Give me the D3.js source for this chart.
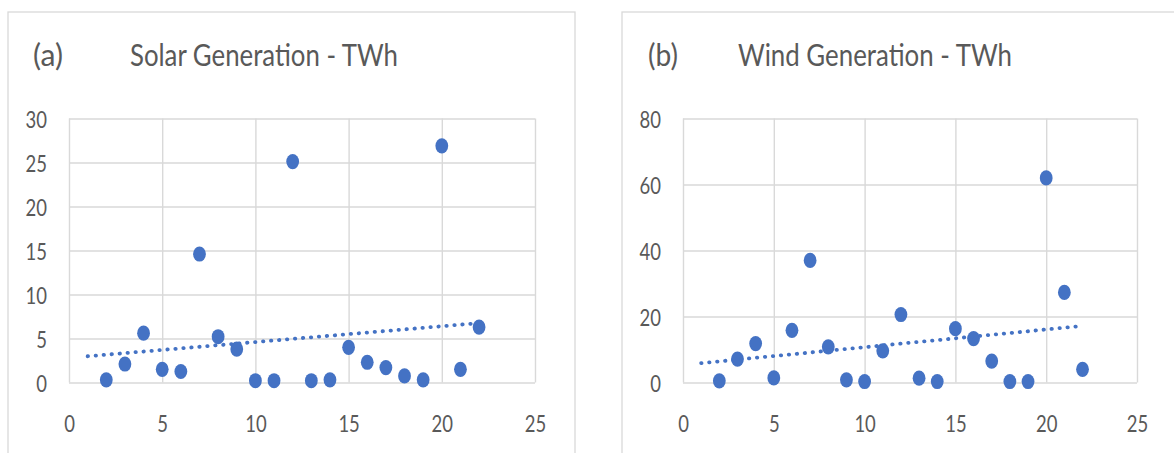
<!DOCTYPE html>
<html>
<head>
<meta charset="utf-8">
<script src="https://cdn.jsdelivr.net/npm/d3@7"></script>
<style>
  html, body { margin: 0; padding: 0; background: #fff; }
  svg { display: block; }
</style>
</head>
<body>
<svg id="chart" width="1174" height="453"></svg>
<script>
// Observation index (x) shared by both panels
const xValues = [2, 3, 4, 5, 6, 7, 8, 9, 10, 11, 12, 13, 14, 15, 16, 17, 18, 19, 20, 21, 22];

// Solar generation, TWh
const solarTWh = [0.3, 2.1, 5.6, 1.5, 1.25, 14.6, 5.2, 3.8, 0.2, 0.2, 25.1, 0.2, 0.3, 4.0, 2.3, 1.7, 0.75, 0.3, 26.9, 1.5, 6.3];

// Wind generation, TWh
const windTWh = [0.5, 7.1, 11.8, 1.4, 15.8, 37, 10.8, 0.8, 0.3, 9.6, 20.6, 1.3, 0.3, 16.3, 13.3, 6.5, 0.3, 0.3, 62, 27.3, 4.0];

// Axis ticks
const xTicks = [0, 5, 10, 15, 20, 25];
const solarYTicks = [0, 5, 10, 15, 20, 25, 30];
const windYTicks = [0, 20, 40, 60, 80];

// Linear trendline span (backward forecast of one unit)
const trendSpan = [1, 22];

const panels = [
  { tag: "(a)", title: "Solar Generation - TWh", values: solarTWh, yTicks: solarYTicks,
    frame: [8, 12, 567, 460], plot: [69, 535], tagX: 33, tagW: 30, titleX: 130, titleW: 268 },
  { tag: "(b)", title: "Wind Generation - TWh", values: windTWh, yTicks: windYTicks,
    frame: [622, 12, 600, 460], plot: [683, 1137], tagX: 648, tagW: 30, titleX: 738, titleW: 274 }
];

const TEXT = "#595959";
const GRID = "#d9d9d9";
const BLUE = "#4472C4";
const FONT = "Lato, 'Open Sans', sans-serif";
const squeeze = 0.77;
const plotTop = 118.5, plotBottom = 382.5;

const svg = d3.select("#chart");

function linearFit(xs, ys) {
  const mx = d3.mean(xs), my = d3.mean(ys);
  let sxy = 0, sxx = 0;
  xs.forEach((x, i) => { sxy += (x - mx) * (ys[i] - my); sxx += (x - mx) * (x - mx); });
  const slope = sxy / sxx;
  return x => my + slope * (x - mx);
}

panels.forEach(p => {
  const g = svg.append("g");

  // chart area frame
  g.append("rect")
    .attr("x", p.frame[0]).attr("y", p.frame[1])
    .attr("width", p.frame[2]).attr("height", p.frame[3])
    .attr("fill", "#fff").attr("stroke", GRID).attr("stroke-width", 1.3);

  // titles
  g.append("text")
    .attr("x", p.tagX).attr("y", 66)
    .attr("textLength", p.tagW).attr("lengthAdjust", "spacingAndGlyphs")
    .attr("font-family", FONT).attr("font-size", 30).attr("fill", TEXT)
    .text(p.tag);
  g.append("text")
    .attr("x", p.titleX).attr("y", 66)
    .attr("textLength", p.titleW).attr("lengthAdjust", "spacingAndGlyphs")
    .attr("font-family", FONT).attr("font-size", 30).attr("fill", TEXT)
    .text(p.title);

  const x = d3.scaleLinear().domain([0, 25]).range(p.plot);
  const yMax = p.yTicks[p.yTicks.length - 1];
  const y = d3.scaleLinear().domain([0, yMax]).range([plotBottom, plotTop]);

  // horizontal gridlines
  g.append("g")
    .attr("transform", `translate(${p.plot[0]},0)`)
    .call(d3.axisLeft(y).tickValues(p.yTicks).tickSize(-(p.plot[1] - p.plot[0])).tickFormat(""))
    .call(a => a.select(".domain").remove())
    .call(a => a.selectAll("line").attr("stroke", GRID).attr("stroke-width", 1.4));

  // vertical gridlines
  g.append("g")
    .attr("transform", `translate(0,${plotBottom})`)
    .call(d3.axisBottom(x).tickValues(xTicks).tickSize(-(plotBottom - plotTop)).tickFormat(""))
    .call(a => a.select(".domain").remove())
    .call(a => a.selectAll("line").attr("stroke", GRID).attr("stroke-width", 1.4));

  // y tick labels
  g.append("g")
    .attr("transform", `translate(${p.plot[0]},0)`)
    .call(d3.axisLeft(y).tickValues(p.yTicks).tickSize(0).tickFormat(d3.format("d")))
    .call(a => a.select(".domain").remove())
    .call(a => a.selectAll("text")
      .attr("x", -22 / squeeze).attr("dy", "0.36em")
      .attr("transform", `scale(${squeeze},1)`)
      .attr("font-family", FONT).attr("font-size", 24).attr("fill", TEXT));

  // x tick labels
  g.append("g")
    .attr("transform", `translate(0,${plotBottom})`)
    .call(d3.axisBottom(x).tickValues(xTicks).tickSize(0).tickFormat(d3.format("d")))
    .call(a => a.select(".domain").remove())
    .call(a => a.selectAll("text")
      .attr("y", 40.5).attr("dy", "0.36em")
      .attr("transform", `scale(${squeeze},1)`)
      .attr("font-family", FONT).attr("font-size", 24).attr("fill", TEXT));

  // markers
  g.append("g").selectAll("ellipse")
    .data(xValues.map((xv, i) => ({ x: xv, y: p.values[i] })))
    .join("ellipse")
    .attr("cx", d => x(d.x)).attr("cy", d => y(d.y))
    .attr("rx", 6.4).attr("ry", 7.6)
    .attr("fill", BLUE);

  // dotted linear trendline
  const fit = linearFit(xValues, p.values);
  g.append("path")
    .datum(trendSpan)
    .attr("d", d3.line().x(d => x(d)).y(d => y(fit(d))))
    .attr("fill", "none").attr("stroke", BLUE)
    .attr("stroke-width", 3.8).attr("stroke-linecap", "round")
    .attr("stroke-dasharray", "0.4 7.6");
});
</script>
</body>
</html>
